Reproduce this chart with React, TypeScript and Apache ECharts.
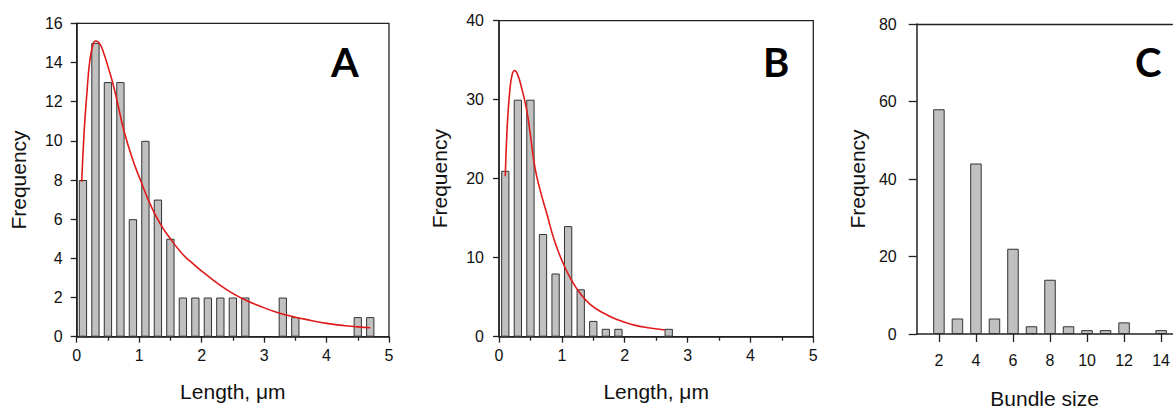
import React, { useEffect, useRef } from "react";
import * as echarts from "echarts";

// Panel A: length histogram (bin centres, µm) and fitted curve
const aBinCenters = [0.1, 0.3, 0.5, 0.7, 0.9, 1.1, 1.3, 1.5, 1.7, 1.9, 2.1, 2.3, 2.5, 2.7, 3.3, 3.5, 4.5, 4.7];
const aCounts = [8, 15, 13, 13, 6, 10, 7, 5, 2, 2, 2, 2, 2, 2, 2, 1, 1, 1];
const aFitX = [0.08, 0.12, 0.16, 0.21, 0.26, 0.3, 0.36, 0.43, 0.5, 0.59, 0.67, 0.75, 0.88, 1.02, 1.2, 1.35, 1.5, 1.7, 1.87, 2.1, 2.4, 2.65, 2.94, 3.2, 3.47, 3.75, 4.0, 4.3, 4.5, 4.7];
const aFitY = [7.9, 10.5, 12.3, 14.1, 14.9, 15.1, 15.0, 14.5, 13.8, 12.8, 11.7, 10.6, 9.2, 8.0, 6.6, 5.7, 5.0, 4.2, 3.7, 3.1, 2.4, 1.95, 1.55, 1.25, 1.02, 0.83, 0.68, 0.56, 0.5, 0.46];

// Panel B
const bBinCenters = [0.1, 0.3, 0.5, 0.7, 0.9, 1.1, 1.3, 1.5, 1.7, 1.9, 2.7];
const bCounts = [21, 30, 30, 13, 8, 14, 6, 2, 1, 1, 1];
const bFitX = [0.1, 0.13, 0.17, 0.21, 0.25, 0.29, 0.35, 0.44, 0.5, 0.57, 0.66, 0.76, 0.88, 1.02, 1.15, 1.29, 1.45, 1.66, 1.9, 2.14, 2.4, 2.64];
const bFitY = [20.3, 26.5, 31, 33.2, 33.7, 33.3, 31.8, 28.7, 25.5, 21.5, 18.4, 15.6, 12.2, 9.3, 7.2, 5.5, 4.1, 3.0, 2.1, 1.5, 1.1, 0.85];

// Panel C: bundle size histogram
const cSizes = [2, 3, 4, 5, 6, 7, 8, 9, 10, 11, 12, 14];
const cCounts = [58, 4, 44, 4, 22, 2, 14, 2, 1, 1, 3, 1];
const cTicks = [2, 4, 6, 8, 10, 12, 14];

const panelLabels = ["A", "B", "C"];

const AXIS = "#222";
const FONT = "'Liberation Sans', Arial, sans-serif";

export default function App() {
  const ref = useRef<HTMLDivElement>(null);
  useEffect(() => {
    if (!ref.current) return;
    const chart = echarts.init(ref.current, null, { renderer: "svg" });

    const frame = { show: true, borderColor: AXIS, borderWidth: 1.3, backgroundColor: "transparent", containLabel: false };
    const grids = [
      { left: 76.7, top: 23.3, width: 312.3, height: 313.4, ...frame },
      { left: 499, top: 20.7, width: 314.3, height: 316, ...frame },
      { left: 916.7, top: 24, width: 256.3, height: 317.7, show: false, containLabel: false },
    ];

    const axisLine = { show: true, onZero: false, lineStyle: { color: AXIS, width: 1.5 } };
    const lenX = (gi: number) => ({
      type: "value", gridIndex: gi, min: 0, max: 5, interval: 1,
      axisLine, axisTick: { show: true, inside: false, length: 6, lineStyle: { color: AXIS, width: 1.3 } },
      minorTick: { show: true, splitNumber: 2, length: 4, lineStyle: { color: AXIS, width: 1.3 } },
      splitLine: { show: false },
      axisLabel: { margin: 11, fontSize: 16, color: "#111", fontFamily: FONT },
      name: "Length, μm", nameLocation: "middle", nameGap: 44,
      nameTextStyle: { fontSize: 21, color: "#111", fontFamily: FONT },
    });
    const freqY = (gi: number, max: number, interval: number, margin: number, gap: number, tick: number) => ({
      type: "value", gridIndex: gi, min: 0, max, interval,
      axisLine, axisTick: { show: true, inside: false, length: tick, lineStyle: { color: AXIS, width: 1.3 } },
      splitLine: { show: false },
      axisLabel: { margin, fontSize: 16, color: "#111", fontFamily: FONT },
      name: "Frequency", nameLocation: "middle", nameGap: gap,
      nameTextStyle: { fontSize: 21, color: "#111", fontFamily: FONT },
    });

    const barStyle = { color: "#c0c0c0", borderColor: "#333", borderWidth: 1 };
    const fitStyle = { color: "#e01a1a", width: 1.6 };
    const cMin = 0.8;
    const cMax = 14.61;

    const option: any = {
      animation: false,
      grid: grids,
      xAxis: [
        lenX(0),
        lenX(1),
        {
          type: "value", gridIndex: 2, min: cMin, max: cMax,
          axisLine,
          axisTick: { show: true, inside: false, length: 8, customValues: cTicks, lineStyle: { color: AXIS, width: 1.3 } },
          splitLine: { show: false },
          axisLabel: { margin: 18, fontSize: 16, color: "#111", fontFamily: FONT, customValues: cTicks, showMaxLabel: true },
          name: "Bundle size", nameLocation: "middle", nameGap: 54,
          nameTextStyle: { fontSize: 21, color: "#111", fontFamily: FONT },
        },
        {
          type: "value", gridIndex: 2, min: cMin, max: cMax, position: "top",
          axisLine: { show: true, onZero: false, lineStyle: { color: AXIS, width: 1.3 } },
          axisTick: { show: false }, axisLabel: { show: false }, splitLine: { show: false },
        },
      ],
      yAxis: [
        freqY(0, 16, 2, 14, 48, 6),
        freqY(1, 40, 10, 15, 49, 6),
        freqY(2, 80, 20, 20, 49, 8),
      ],
      series: [
        { type: "bar", xAxisIndex: 0, yAxisIndex: 0, barWidth: 8.3, itemStyle: barStyle,
          data: aBinCenters.map((x, i) => [x, aCounts[i]]) },
        { type: "line", xAxisIndex: 0, yAxisIndex: 0, smooth: true, showSymbol: false, lineStyle: fitStyle,
          data: aFitX.map((x, i) => [x, aFitY[i]]) },
        { type: "bar", xAxisIndex: 1, yAxisIndex: 1, barWidth: 8.3, itemStyle: barStyle,
          data: bBinCenters.map((x, i) => [x, bCounts[i]]) },
        { type: "line", xAxisIndex: 1, yAxisIndex: 1, smooth: true, showSymbol: false, lineStyle: fitStyle,
          data: bFitX.map((x, i) => [x, bFitY[i]]) },
        { type: "bar", xAxisIndex: 2, yAxisIndex: 2, barWidth: 11.5, itemStyle: barStyle,
          data: cSizes.map((x, i) => [x, cCounts[i]]) },
      ],
      graphic: [
        { type: "text", left: 331, top: 42, style: { text: panelLabels[0], font: "bold 40px Lato, 'Liberation Sans', sans-serif", fill: "#000" } },
        { type: "text", left: 763, top: 42, style: { text: panelLabels[1], font: "bold 40px Lato, 'Liberation Sans', sans-serif", fill: "#000" } },
        { type: "text", left: 1135, top: 42, style: { text: panelLabels[2], font: "bold 40px Lato, 'Liberation Sans', sans-serif", fill: "#000" } },
      ],
    };
    chart.setOption(option);
    return () => chart.dispose();
  }, []);
  return (
    <div
      ref={ref}
      style={{ position: "fixed", left: 0, top: 0, width: 1173, height: 414, background: "#fff" }}
    />
  );
}
